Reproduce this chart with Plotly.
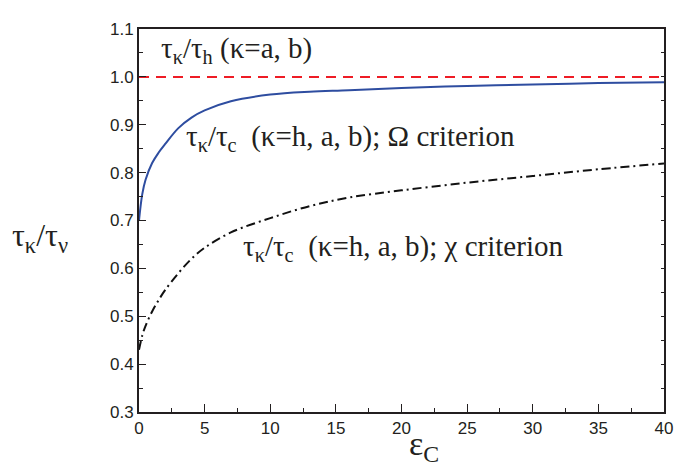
import plotly.graph_objects as go

# data
eps_blue = [0, 0.25, 0.5, 1, 1.5, 2, 3, 4, 5, 7, 10, 13, 16, 20, 25, 30, 35, 40]
omega_ratio = [0.70, 0.755, 0.785, 0.82, 0.842, 0.86, 0.893, 0.915, 0.93, 0.949, 0.963, 0.969, 0.972, 0.977, 0.981, 0.984, 0.987, 0.989]

eps_black = [0, 0.25, 0.5, 1, 1.5, 2, 3, 4, 5, 7, 10, 13, 16, 20, 25, 30, 35, 40]
chi_ratio = [0.43, 0.46, 0.48, 0.51, 0.534, 0.555, 0.59, 0.62, 0.643, 0.675, 0.705, 0.73, 0.748, 0.763, 0.779, 0.793, 0.807, 0.819]

eps_red = [0, 40]
h_ratio = [1.0, 1.0]

axis_col = "#231f20"
serif = "Liberation Serif, Times New Roman, DejaVu Serif, serif"
sans = "Liberation Sans, Arial, sans-serif"

fig = go.Figure()
fig.add_trace(go.Scatter(x=eps_red, y=h_ratio, mode="lines",
                         line=dict(color="#ee1c25", width=2, dash="10px,7px"), showlegend=False))
fig.add_trace(go.Scatter(x=eps_blue, y=omega_ratio, mode="lines", line_shape="spline",
                         line=dict(color="#2e4da0", width=2), showlegend=False))
fig.add_trace(go.Scatter(x=eps_black, y=chi_ratio, mode="lines", line_shape="spline",
                         line=dict(color="#111111", width=2, dash="9px,4px,2px,4px"), showlegend=False))
# invisible trace to activate right axis
fig.add_trace(go.Scatter(x=[0], y=[0.3], yaxis="y2", mode="markers",
                         marker=dict(opacity=0), showlegend=False, hoverinfo="skip"))

fig.update_layout(
    width=693, height=468,
    margin=dict(l=131, r=37, t=21, b=64),
    paper_bgcolor="white", plot_bgcolor="white",
    xaxis=dict(range=[0, 40], dtick=5, tick0=0, ticks="inside", ticklen=8, tickwidth=1,
               tickcolor=axis_col, showline=True, linecolor=axis_col, linewidth=2,
               mirror=True, showgrid=False, zeroline=False,
               tickfont=dict(family=sans, size=17, color="#231f20"),
               minor=dict(dtick=2.5, ticks="inside", ticklen=4, tickcolor=axis_col, showgrid=False)),
    yaxis=dict(range=[0.3, 1.1], dtick=0.1, tick0=0.3, tickformat=".1f", ticks="inside", ticklen=7,
               tickwidth=1, tickcolor=axis_col, showline=True, linecolor=axis_col, linewidth=2,
               mirror=True, showgrid=False, zeroline=False,
               tickfont=dict(family=sans, size=17, color="#231f20"),
               minor=dict(dtick=0.05, ticks="inside", ticklen=4, tickcolor=axis_col, showgrid=False)),
    yaxis2=dict(range=[0.3, 1.1], overlaying="y", side="right", dtick=0.05, tick0=0.3,
                ticks="inside", ticklen=3, tickcolor=axis_col, showticklabels=False,
                showgrid=False, zeroline=False, showline=False),
)

ann_font = dict(family=serif, size=29, color="#231f20")
fig.add_annotation(x=1.55, y=1.057, xref="x", yref="y", xanchor="left", yanchor="middle",
                   text="τ<sub>κ</sub>/τ<sub>h</sub> (κ=a, b)", showarrow=False, font=ann_font)
fig.add_annotation(x=3.45, y=0.872, xref="x", yref="y", xanchor="left", yanchor="middle",
                   text="τ<sub>κ</sub>/τ<sub>c</sub>  (κ=h, a, b); Ω criterion", showarrow=False, font=ann_font)
fig.add_annotation(x=7.75, y=0.643, xref="x", yref="y", xanchor="left", yanchor="middle",
                   text="τ<sub>κ</sub>/τ<sub>c</sub>  (κ=h, a, b); χ criterion", showarrow=False, font=ann_font)

# axis titles as annotations
fig.add_annotation(x=20.4, y=0, xref="x", yref="paper", xanchor="left", yanchor="top", yshift=-11,
                   text="ε<sub>C</sub>", showarrow=False,
                   font=dict(family=serif, size=34, color="#231f20"))
fig.add_annotation(x=0, y=0.665, xref="paper", yref="y", xanchor="left", yanchor="middle", xshift=-129,
                   text="τ<sub>κ</sub>/τ<sub>ν</sub>", showarrow=False,
                   font=dict(family=serif, size=32, color="#231f20"))

fig.write_html("out.html")
